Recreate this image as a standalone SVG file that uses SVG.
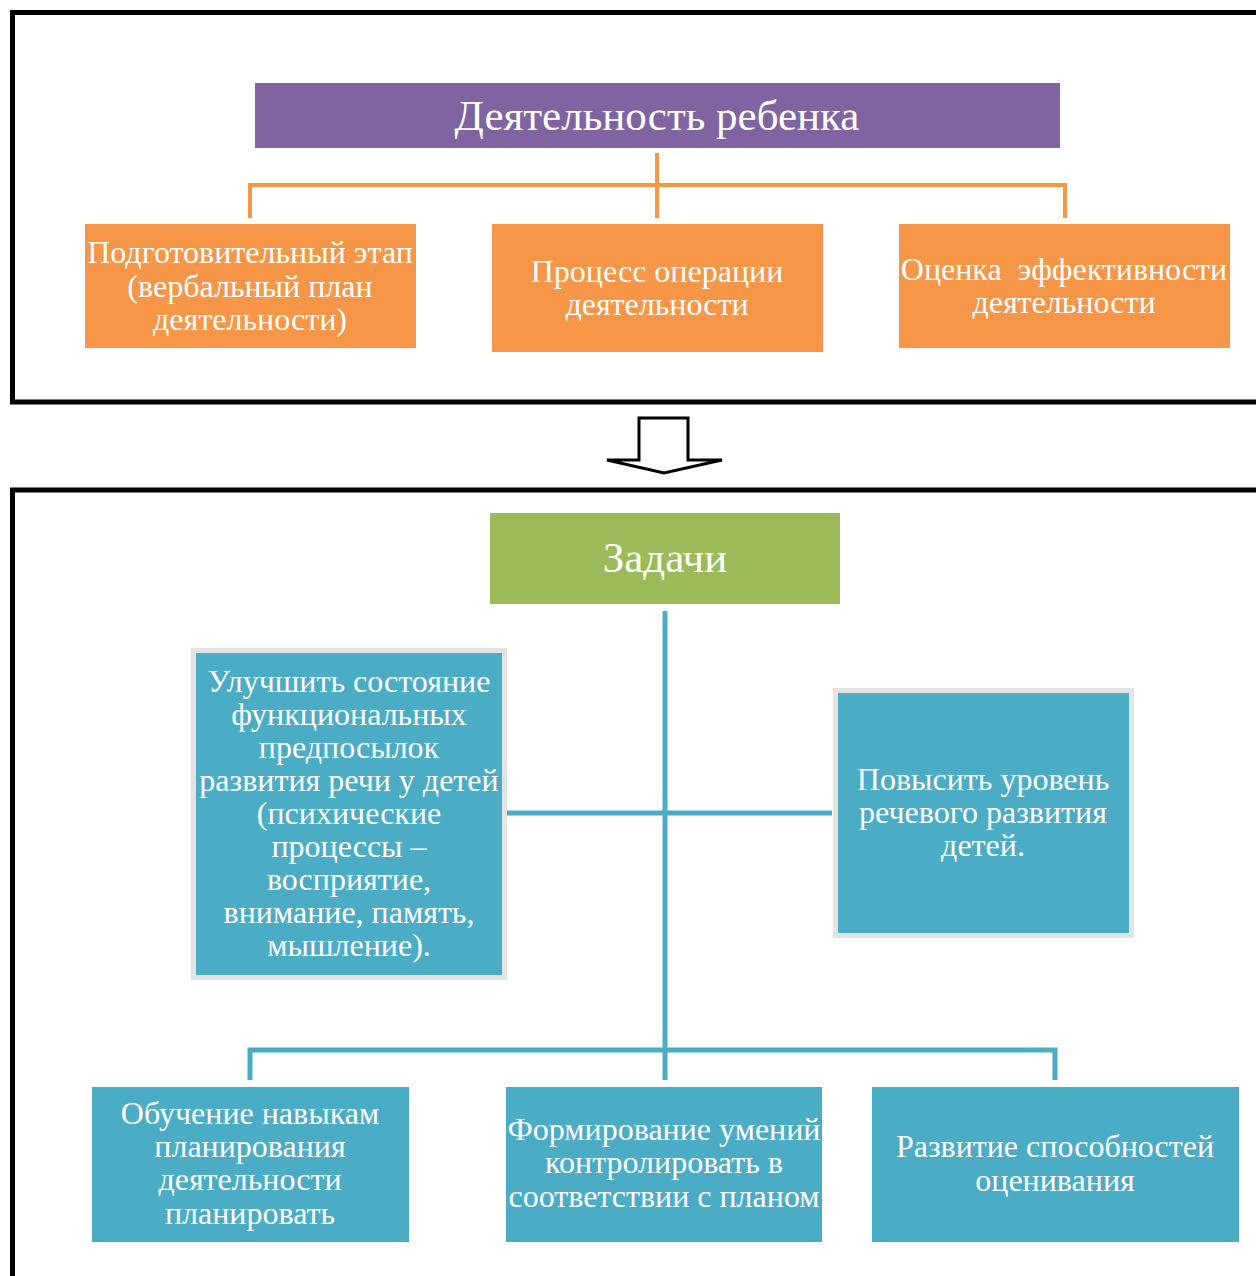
<svg xmlns="http://www.w3.org/2000/svg" width="1256" height="1276" viewBox="0 0 1256 1276">
<style>
.t{font-family:"Liberation Serif","Times New Roman",serif;fill:#fff;text-anchor:middle;font-size:32px}
.big{font-size:43px}
.frame{fill:none;stroke:#000;stroke-width:5}
.oc{fill:none;stroke:#F79646;stroke-width:4}
.bc{fill:none;stroke:#4BACC6;stroke-width:5}
.or{fill:#F79646}
.bl{fill:#4BACC6}
</style>
<rect width="1256" height="1276" fill="#fff"/>
<g id="frames">
<path class="frame" d="M1260,12.5 H12.5 V402 H1260"/>
<path class="frame" d="M1260,490 H12.5 V1280"/>
<polygon points="639,418 688,418 688,460 722,460 664,473 607,460 639,460" fill="#fff" stroke="#000" stroke-width="3" stroke-linejoin="miter"/>
</g>
<g id="connectors">
<path class="oc" d="M250,218 V185 H1065 V218 M657,153 V218"/>
<path class="bc" d="M665,611 V1080 M507,813 H832 M250,1080 V1050 H1055 V1080"/>
</g>
<g id="n-title">
<rect x="255" y="83" width="805" height="65" fill="#8064A2"/>
<text class="t big" x="657" y="130">Деятельность ребенка</text>
</g>
<g id="n-prep">
<rect class="or" x="85" y="224" width="331" height="124"/>
<text class="t" x="250" y="263">Подготовительный этап</text>
<text class="t" x="250" y="297">(вербальный план</text>
<text class="t" x="250" y="330">деятельности)</text>
</g>
<g id="n-proc">
<rect class="or" x="492" y="224" width="331" height="128"/>
<text class="t" x="657" y="282">Процесс операции</text>
<text class="t" x="657" y="315">деятельности</text>
</g>
<g id="n-eval">
<rect class="or" x="899" y="224" width="331" height="124"/>
<text class="t" x="1064" y="280" xml:space="preserve">Оценка  эффективности</text>
<text class="t" x="1064" y="313">деятельности</text>
</g>
<g id="n-tasks">
<rect x="490" y="513" width="350" height="91" fill="#9BBB59"/>
<text class="t big" x="665" y="572">Задачи</text>
</g>
<g id="n-improve">
<rect x="193.5" y="650.5" width="311" height="327" fill="#4BACC6" stroke="#E3E3E3" stroke-width="5"/>
<text class="t" x="349" y="692">Улучшить состояние</text>
<text class="t" x="349" y="725">функциональных</text>
<text class="t" x="349" y="758">предпосылок</text>
<text class="t" x="349" y="791">развития речи у детей</text>
<text class="t" x="349" y="824">(психические</text>
<text class="t" x="349" y="857">процессы –</text>
<text class="t" x="349" y="890">восприятие,</text>
<text class="t" x="349" y="923">внимание, память,</text>
<text class="t" x="349" y="956">мышление).</text>
</g>
<g id="n-raise">
<rect x="835.5" y="690.5" width="296" height="245" fill="#4BACC6" stroke="#E3E3E3" stroke-width="5"/>
<text class="t" x="983" y="790">Повысить уровень</text>
<text class="t" x="983" y="823">речевого развития</text>
<text class="t" x="983" y="856">детей.</text>
</g>
<g id="n-plan">
<rect class="bl" x="92" y="1087" width="317" height="155"/>
<text class="t" x="250" y="1124">Обучение навыкам</text>
<text class="t" x="250" y="1157">планирования</text>
<text class="t" x="250" y="1190">деятельности</text>
<text class="t" x="250" y="1224">планировать</text>
</g>
<g id="n-control">
<rect class="bl" x="506" y="1087" width="316" height="155"/>
<text class="t" x="664" y="1140">Формирование умений</text>
<text class="t" x="664" y="1173">контролировать в</text>
<text class="t" x="664" y="1207">соответствии с планом</text>
</g>
<g id="n-assess">
<rect class="bl" x="872" y="1087" width="367" height="155"/>
<text class="t" x="1055" y="1157">Развитие способностей</text>
<text class="t" x="1055" y="1191">оценивания</text>
</g>
</svg>
